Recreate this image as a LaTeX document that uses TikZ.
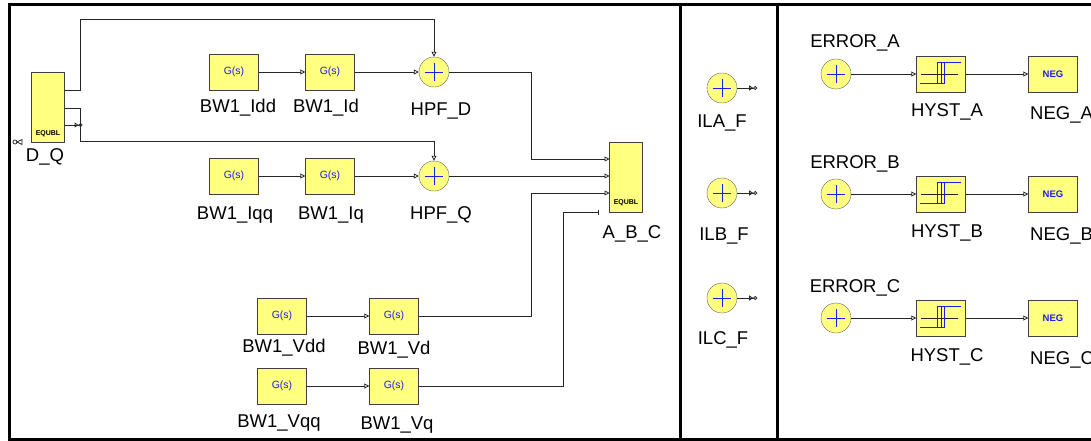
\documentclass[tikz,border=0pt]{standalone}
\usepackage{fontspec}
\setmainfont{Liberation Sans}
\usetikzlibrary{arrows.meta}
\definecolor{blkyellow}{RGB}{255,255,128}
\definecolor{sigblue}{RGB}{30,30,235}
\begin{document}
\begin{tikzpicture}[x=1pt,y=-1pt]
    \tikzstyle{gblock}=[rectangle,draw=black!75,fill=blkyellow,minimum width=49pt,minimum height=36pt,inner sep=0pt,font=\fontsize{10.5}{11}\selectfont\color{sigblue}]
    \tikzstyle{negblock}=[gblock,font=\fontsize{9.5}{10}\selectfont\bfseries\color{sigblue}]
    \tikzstyle{hyst}=[gblock,path picture={
        \draw[black!85,line width=0.8pt] (path picture bounding box.center) +(-20,0) -- +(17,0) +(0,-11) -- +(0,10);
        \draw[sigblue,line width=0.8pt] (path picture bounding box.center) +(20,-12) -- +(-4,-12) -- +(-4,9) +(3,-12) -- +(3,9) -- +(-21,9);}]
    \tikzstyle{sum}=[circle,draw=black!60,fill=blkyellow,minimum size=30pt,inner sep=0pt,path picture={
        \draw[sigblue,line width=0.8pt] (path picture bounding box.center) +(-9,0) -- +(9,0) +(0,-9) -- +(0,9);}]
    \tikzstyle{equbl}=[rectangle,draw=black!75,fill=blkyellow,minimum width=33pt,minimum height=70pt,inner sep=0pt]
    \tikzstyle{tag}=[font=\fontsize{7}{7}\selectfont\bfseries,inner sep=0pt]
    \tikzstyle{lbl}=[font=\fontsize{18.5}{20}\selectfont,anchor=base,inner sep=0pt]
    \tikzstyle{wire}=[draw=black!85,line width=0.8pt]
    \tikzstyle{arr}=[wire,-{Triangle[open,length=5pt,width=5pt]}]
    \tikzstyle{outport}=[wire,-{Triangle[open,length=4pt,width=5pt] Circle[open,length=4pt]}]
    \useasboundingbox (0,0) rectangle (1091,441);
    % frame
    \draw[line width=3pt] (1095,4.5) -- (9.5,4.5) -- (9.5,439) -- (1095,439);
    \draw[line width=3pt] (680,4.5) -- (680,439) (777,4.5) -- (777,439);

    % d-q to abc part
    \node[equbl] (DQ) at (48,107) {};
    \node[tag] (DQtag) at (48,134) {EQUBL};
    \node[lbl] (DQlbl) at (45,161) {D\_Q};
    \draw[black!85,line width=0.7pt] (15,142) circle (2) (17,142) -- (22,139.5) -- (22,144.5) -- cycle;
    \coordinate (dq1) at (64.5,90);
    \coordinate (dq2) at (64.5,108);
    \coordinate (dq3) at (64.5,125);

    \node[gblock] (Idd) at (234,72) {G(s)};
    \node[gblock] (Id) at (330,72) {G(s)};
    \node[sum] (HPFD) at (434,72) {};
    \node[gblock] (Iqq) at (234,176) {G(s)};
    \node[gblock] (Iq) at (330,176) {G(s)};
    \node[sum] (HPFQ) at (434,176) {};
    \node[gblock] (Vdd) at (282,316) {G(s)};
    \node[gblock] (Vd) at (394,316) {G(s)};
    \node[gblock] (Vqq) at (282,386) {G(s)};
    \node[gblock] (Vq) at (394,386) {G(s)};
    \node[equbl] (ABC) at (626,177) {};
    \node[tag] (ABCtag) at (626,203) {EQUBL};
    \coordinate (abc1) at (609.5,159);
    \coordinate (abc2) at (609.5,176);
    \coordinate (abc3) at (609.5,193);
    \coordinate (abc4) at (599,212);

    \node[lbl] (Iddlbl) at (238,113) {BW1\_Idd};
    \node[lbl] (Idlbl) at (326,113) {BW1\_Id};
    \node[lbl] (HPFDlbl) at (441,116) {HPF\_D};
    \node[lbl] (Iqqlbl) at (235,219) {BW1\_Iqq};
    \node[lbl] (Iqlbl) at (331,219) {BW1\_Iq};
    \node[lbl] (HPFQlbl) at (441,219) {HPF\_Q};
    \node[lbl] (ABClbl) at (632,238) {A\_B\_C};
    \node[lbl] (Vddlbl) at (284,352) {BW1\_Vdd};
    \node[lbl] (Vdlbl) at (394,354) {BW1\_Vd};
    \node[lbl] (Vqqlbl) at (279,427) {BW1\_Vqq};
    \node[lbl] (Vqlbl) at (397,429) {BW1\_Vq};

    \draw[arr] (dq1) -- ++(16,0) |- (HPFD.north |- 0,19.5) -- (HPFD.north);
    \draw[arr] (dq2) -- ++(16,0) |- (HPFQ.north |- 0,141) -- (HPFQ.north);
    \draw[outport] (dq3) -- ++(18,0);
    \draw[arr] (Idd) -- (Id);
    \draw[arr] (Id) -- (HPFD);
    \draw[arr] (Iqq) -- (Iq);
    \draw[arr] (Iq) -- (HPFQ);
    \draw[arr] (HPFD.east) -| (531,159) -- (abc1);
    \draw[arr] (HPFQ.east) -- (abc2);
    \draw[arr] (Vdd) -- (Vd);
    \draw[arr] (Vd.east) -| (531,193) -- (abc3);
    \draw[arr] (Vqq) -- (Vq);
    \draw[wire,-{Bar[width=5pt]}] (Vq.east) -| (563,212) -- (abc4);

    % filtered line currents
    \node[sum] (ILA) at (722,88) {};
    \node[sum] (ILB) at (722,193) {};
    \node[sum] (ILC) at (722,298) {};
    \draw[outport] (ILA.east) -- ++(20,0);
    \draw[outport] (ILB.east) -- ++(20,0);
    \draw[outport] (ILC.east) -- ++(20,0);
    \node[lbl] (ILAlbl) at (722,128) {ILA\_F};
    \node[lbl] (ILBlbl) at (724,240) {ILB\_F};
    \node[lbl] (ILClbl) at (723,344) {ILC\_F};

    % hysteresis rows
    \foreach \r/\y in {A/74,B/194,C/318}{
        \node[sum] (ERR\r) at (836,\y) {};
        \node[hyst] (HYST\r) at (941,\y) {};
        \node[negblock] (NEG\r) at (1053,\y) {NEG};
        \draw[arr] (ERR\r) -- (HYST\r);
        \draw[arr] (HYST\r) -- (NEG\r);
        \node[lbl] (ERRlbl\r) at (855,\y-26) {ERROR\_\r};
        \node[lbl] (HYSTlbl\r) at (947,\y+43) {HYST\_\r};
        \node[lbl,anchor=base west] (NEGlbl\r) at (1030,\y+46) {NEG\_\r};
    }
\end{tikzpicture}
\end{document}
